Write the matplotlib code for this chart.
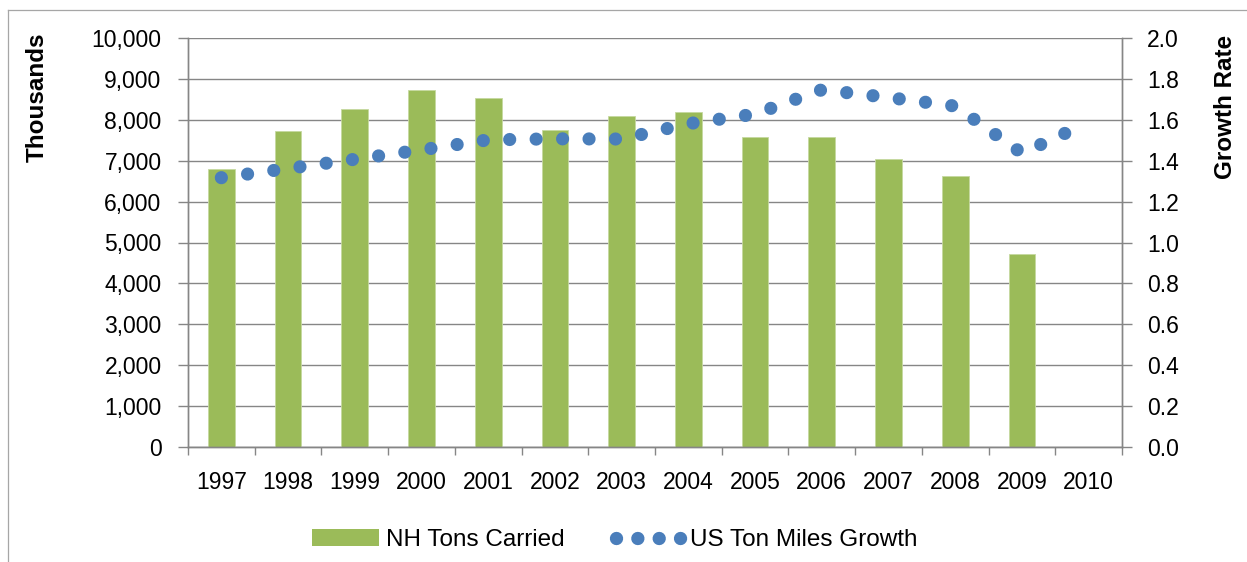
import numpy as np
from matplotlib import pyplot as plt
from matplotlib.lines import Line2D
from matplotlib.patches import Patch
from matplotlib.ticker import FuncFormatter, FixedLocator

# Data
years = ['1997', '1998', '1999', '2000', '2001', '2002', '2003',
         '2004', '2005', '2006', '2007', '2008', '2009', '2010']
nh_tons = [6800, 7725, 8265, 8720, 8535, 7745, 8100,
           8190, 7590, 7580, 7035, 6625, 4720, np.nan]
us_growth = [1.317, 1.362, 1.407, 1.453, 1.502, 1.507, 1.506,
             1.581, 1.628, 1.747, 1.709, 1.667, 1.437, 1.587]

green = '#9bbb59'
blue = '#4a7ebb'
gray = '#868686'

plt.rcParams['font.family'] = ['Liberation Sans', 'DejaVu Sans']
fs = 16.5

dpi = 100
fig = plt.figure(figsize=(1247 / dpi, 562 / dpi), dpi=dpi)
ax = fig.add_axes([188 / 1247, 1 - 447 / 562, (1122 - 188) / 1247, (447 - 38) / 562])
ax2 = ax.twinx()

x = np.arange(len(years))
ax.bar(x, nh_tons, width=0.4, color=green, edgecolor='#c6d9a0', linewidth=0.6, zorder=2)
ax2.plot(x, us_growth, color=blue, linewidth=9.5, linestyle=(0, (0.001, 2.004)),
         dash_capstyle='round', zorder=3)

ax.set_xlim(-0.5, len(years) - 0.5)
ax.set_ylim(0, 10000)
ax2.set_ylim(0, 2.0)
ax.set_yticks(np.arange(0, 10001, 1000))
ax2.set_yticks(np.arange(0, 2.01, 0.2))
ax.yaxis.set_major_formatter(FuncFormatter(lambda v, p: '{:,.0f}'.format(v)))
ax2.yaxis.set_major_formatter(FuncFormatter(lambda v, p: '{:.1f}'.format(v)))
ax.grid(axis='y', color=gray, linewidth=1.0, zorder=0)
ax.set_axisbelow(True)

# category ticks at boundaries, labels at centers
ax.xaxis.set_major_locator(FixedLocator(np.arange(-0.5, len(years), 1.0)))
ax.xaxis.set_major_formatter(FuncFormatter(lambda v, p: ''))
ax.xaxis.set_minor_locator(FixedLocator(x))
ax.set_xticklabels(years, minor=True)
ax.tick_params(axis='x', which='major', length=6, width=1.0, color=gray, direction='out')
ax.tick_params(axis='x', which='minor', length=0, pad=17, labelsize=fs)
ax.tick_params(axis='y', length=7, width=1.0, color=gray, pad=12, labelsize=fs)
ax2.tick_params(axis='y', length=7, width=1.0, color=gray, pad=11, labelsize=fs)

for a in (ax, ax2):
    a.spines['top'].set_visible(False)
    for s in ('left', 'right', 'bottom'):
        a.spines[s].set_color(gray)
        a.spines[s].set_linewidth(1.0)

fig.text(37 / 1247, 1 - 97 / 562, 'Thousands', rotation=90, ha='center', va='center',
         fontsize=17.5, fontweight='bold')
fig.text(1226 / 1247, 1 - 107 / 562, 'Growth Rate', rotation=90, ha='center', va='center',
         fontsize=17.5, fontweight='bold')

handles = [Patch(facecolor=green, edgecolor='none'),
           Line2D([0], [0], color=blue, linewidth=9.6, linestyle=(0, (0.001, 1.6)),
                  dash_capstyle='round')]
fig.legend(handles, ['NH Tons Carried', 'US Ton Miles Growth'], loc='center',
           bbox_to_anchor=(615 / 1247, 1 - 540 / 562), ncol=2, frameon=False,
           fontsize=17.5, handlelength=2.76, handletextpad=0.3, columnspacing=2.1)

# outer chart border (partly cropped)
fig.add_artist(Line2D([7.5 / 1247, 7.5 / 1247], [0, 1 - 10 / 562], transform=fig.transFigure,
                      color='#a6a6a6', linewidth=0.9))
fig.add_artist(Line2D([7.5 / 1247, 1], [1 - 10 / 562, 1 - 10 / 562], transform=fig.transFigure,
                      color='#a6a6a6', linewidth=0.9))

fig.savefig('out.png', dpi=dpi)
